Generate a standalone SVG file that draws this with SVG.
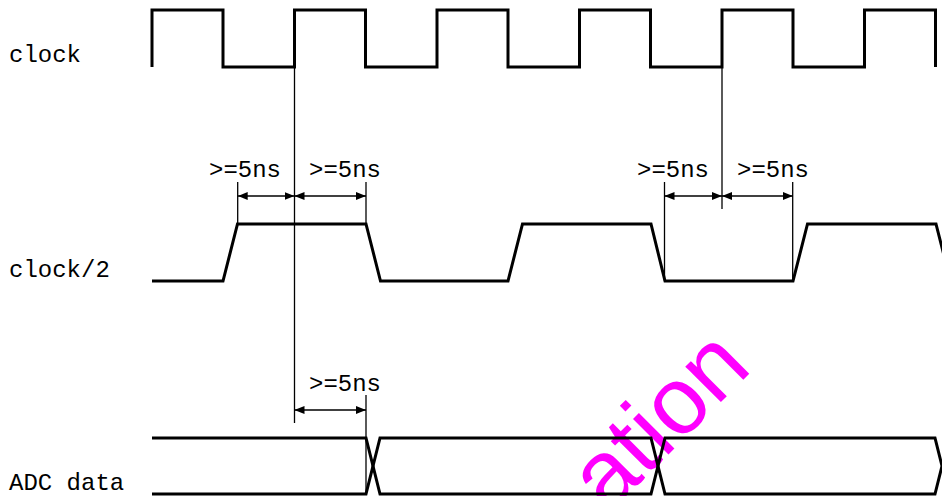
<svg xmlns="http://www.w3.org/2000/svg" width="942" height="496" viewBox="0 0 942 496">
<defs>
<style>
.sig{fill:none;stroke:#000;stroke-width:3;stroke-linejoin:miter}
.thin{fill:none;stroke:#000;stroke-width:1.3}
.lbl{font-family:"Liberation Mono","DejaVu Sans Mono",monospace;font-size:24px;fill:#000}
.wm{font-family:"Liberation Sans",Arial,sans-serif;font-size:95px;fill:#ff00ff}
</style>
<marker id="arr" viewBox="0 0 10 8" refX="10" refY="4" markerWidth="10" markerHeight="8" markerUnits="userSpaceOnUse" orient="auto-start-reverse">
<path d="M0,0 L10,4 L0,8 Z" fill="#000"/>
</marker>
</defs>
<rect width="942" height="496" fill="#fff"/>
<text class="wm" transform="translate(608,515) rotate(-45)">ation</text>
<g id="clock">
<text class="lbl" x="9" y="62">clock</text>
<path class="sig" d="M152,67 V10 H223 V67 H294.5 V10 H365.5 V67 H437 V10 H508 V67 H579.5 V10 H650.5 V67 H722 V10 H793 V67 H864.5 V10 H935.5 V67"/>
</g>
<g id="clock2">
<text class="lbl" x="9" y="277">clock/2</text>
<path class="sig" d="M152,281 H223 L237.5,224 H366 L380.5,281 H508 L522.5,224 H651 L665,281 H793 L807.5,224 H936 L950.5,281"/>
</g>
<g id="adc">
<text class="lbl" x="9" y="490">ADC data</text>
<path class="sig" d="M152,438 H366 L380,494 H651 L665,438 H935 L942,466"/>
<path class="sig" d="M152,494 H366 L380,438 H651 L665,494 H935 L942,466"/>
</g>
<g id="connectors">
<line class="thin" x1="294.5" y1="67" x2="294.5" y2="423"/>
<line class="thin" x1="237.7" y1="182" x2="237.7" y2="224"/>
<line class="thin" x1="366" y1="182" x2="366" y2="224"/>
<line class="thin" x1="722" y1="67" x2="722" y2="209"/>
<line class="thin" x1="664.5" y1="182" x2="664.5" y2="281"/>
<line class="thin" x1="792.7" y1="182" x2="792.7" y2="281"/>
<line class="thin" x1="366" y1="395" x2="366" y2="494"/>
<line class="thin" x1="237.7" y1="196" x2="294.5" y2="196" marker-start="url(#arr)" marker-end="url(#arr)"/>
<line class="thin" x1="294.5" y1="196" x2="366" y2="196" marker-start="url(#arr)" marker-end="url(#arr)"/>
<line class="thin" x1="664.5" y1="196" x2="722" y2="196" marker-start="url(#arr)" marker-end="url(#arr)"/>
<line class="thin" x1="722" y1="196" x2="792.7" y2="196" marker-start="url(#arr)" marker-end="url(#arr)"/>
<line class="thin" x1="294.5" y1="410" x2="366" y2="410" marker-start="url(#arr)" marker-end="url(#arr)"/>
</g>
<g id="labels">
<text class="lbl" x="209" y="177">&gt;=5ns</text>
<text class="lbl" x="309" y="177">&gt;=5ns</text>
<text class="lbl" x="637" y="177">&gt;=5ns</text>
<text class="lbl" x="737" y="177">&gt;=5ns</text>
<text class="lbl" x="309" y="391">&gt;=5ns</text>
</g>
</svg>
